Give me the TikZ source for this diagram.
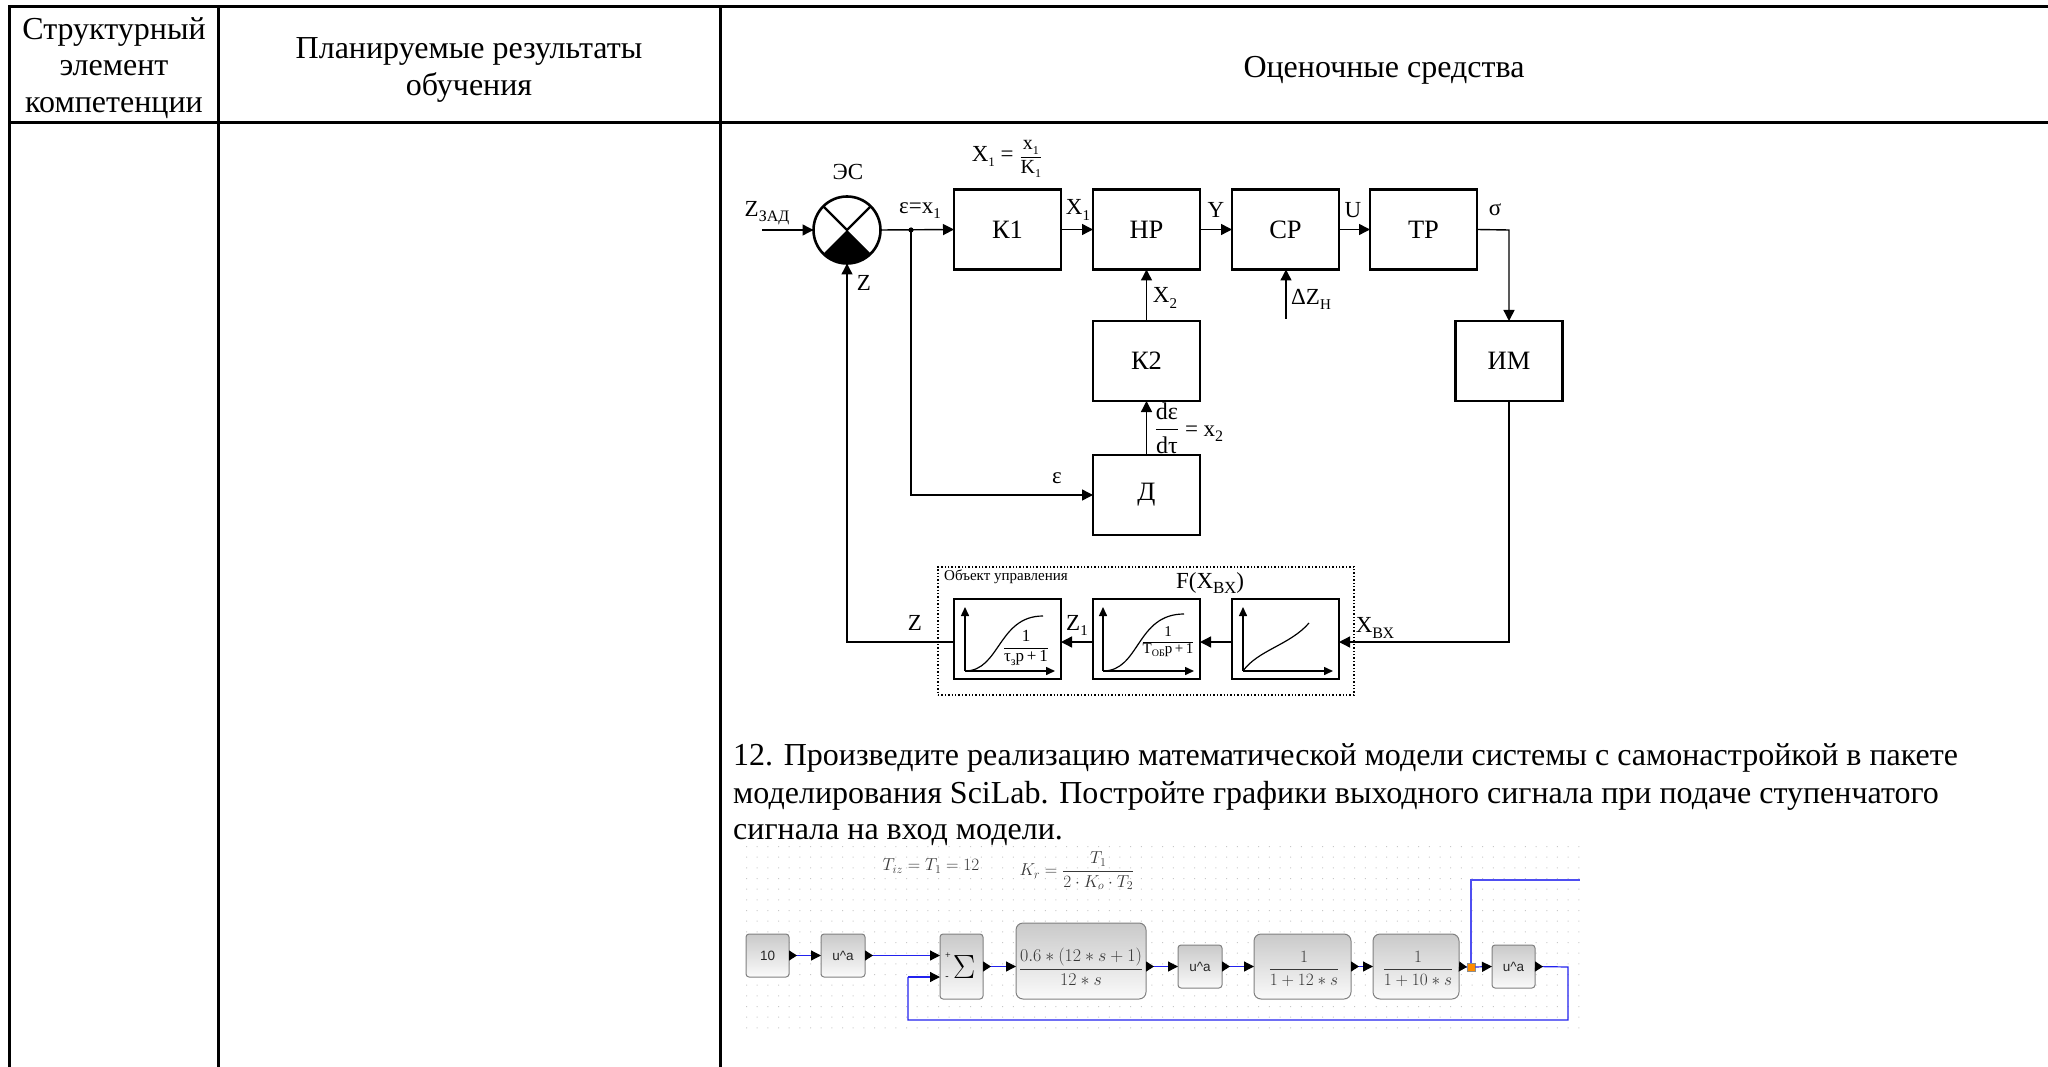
\documentclass[tikz,border=0pt]{standalone}
\usepackage{amsmath}
\usepackage{graphicx}
\usepackage{fontspec}
\setmainfont{Liberation Serif}
\setsansfont{Liberation Sans}
\usetikzlibrary{arrows.meta,calc}
\newcommand{\fz}[1]{\fontsize{#1}{#1}\selectfont}
\newcommand{\sbs}[2]{\raisebox{-.22em}{\fz{#1}#2}}
\newcommand{\mfrac}[3]{{\fz{#1}$\dfrac{#2}{#3}$}}
\definecolor{wire}{HTML}{2222EE}
\definecolor{formula}{HTML}{383838}
\tikzset{
  rule/.style={line width=3pt,line cap=butt},
  cell/.style={font=\fontsize{32}{36.5}\selectfont,align=center,inner sep=0pt,text=black},
  bx/.style={draw,line width=2.6pt,minimum width=107pt,minimum height=80pt,inner sep=0pt,outer sep=0pt,font=\fz{26.5}},
  conn/.style={line width=1.4pt,-{Triangle[length=11pt,width=11pt]}},
  lab/.style={inner sep=0pt,font=\fz{23}},
  axis/.style={line width=1.5pt,-{Triangle[length=9pt,width=8pt]}},
  curve/.style={line width=1.2pt},
  sci/.style={draw=black!50,line width=1pt,rounded corners=#1,top color=black!21,bottom color=black!2,inner sep=0pt,outer sep=0pt,text=formula},
  sci/.default=3pt,
  wr/.style={line width=1.2pt,draw=wire,{Triangle[reversed,length=8pt,width=10pt,color=black]}-{Triangle[length=10pt,width=10pt,color=black]}},
  wrin/.style={line width=1.2pt,draw=wire,-{Triangle[length=10pt,width=10pt,color=black]}},
  wrout/.style={line width=1.2pt,draw=wire,{Triangle[reversed,length=8pt,width=10pt,color=black]}-},
  wrtop/.style={line width=1.2pt,draw=wire!80!white},
  sm/.style={font=\sffamily\fz{13.5},text=black!85},
  scimath/.style={inner sep=0pt,text=formula,font=\fontsize{18}{22}\selectfont},
  blockmath/.style={inner sep=0pt,text=formula,font=\fontsize{18.6}{22}\selectfont},
}
\begin{document}
\begin{tikzpicture}[x=1pt,y=-1pt]
\useasboundingbox (0,0) rectangle (2048,1067);
% table
\draw[rule] (8,7) -- (2048,7);
\draw[rule] (8,123) -- (2048,123);
\draw[rule] (9,6) -- (9,1067);
\draw[rule] (218,6) -- (218,1067);
\draw[rule] (720,6) -- (720,1067);
\node[cell] (h1) at (114,68) {Структурный\\элемент\\компетенции};
\node[cell] (h2) at (469,70) {Планируемые результаты\\обучения};
\node[cell] (h3) at (1384,70) {Оценочные средства};
% block diagram
\node[draw,circle,line width=2.6pt,minimum size=67pt,inner sep=0pt,outer sep=0pt] (es) at (847,230) {};
\fill (es.center) -- (es.225) arc[start angle=225,end angle=315,radius=33.5pt] -- cycle;
\draw[line width=2.2pt] (es.135) -- (es.center) -- (es.45);
\node[bx] (k1) at (1007.5,229.5) {К1};
\node[bx] (np) at (1146.5,229.5) {НР};
\node[bx] (sr) at (1285.5,229.5) {СР};
\node[bx] (tr) at (1423.5,229.5) {ТР};
\node[bx] (k2) at (1146.5,361) {К2};
\node[bx] (im) at (1509,361) {ИМ};
\node[bx] (dd) at (1146.5,495) {Д};
\node[bx] (o1) at (1007.5,639) {};
\node[bx] (o2) at (1146.5,639) {};
\node[bx] (o3) at (1285.5,639) {};
\node[draw,dotted,line width=1.4pt,minimum width=416pt,minimum height=128pt,inner sep=0pt] (obj) at (1146,631) {};
\coordinate (zin) at (762,230);
\coordinate (branch) at (911,230);
\coordinate (dzn) at (1286,319);
\coordinate (tc) at (1509,230);
\coordinate (ic) at (1509,642);
\coordinate (zc) at (847,642);
\coordinate (bc) at (911,495);
\draw[conn] (zin) -- (es.west);
\draw[conn] (es.east) -- (k1.west);
\fill (branch) circle (2.6pt);
\draw[conn] (k1.east) -- (np.west);
\draw[conn] (np.east) -- (sr.west);
\draw[conn] (sr.east) -- (tr.west);
\draw[conn] (tr.east) -- (tc) -- (im.north);
\draw[conn] (k2.north) -- (np.south);
\draw[conn] (dd.north) -- (k2.south);
\draw[conn] (branch) -- (bc) -- (dd.west);
\draw[conn] (dzn) -- (dzn |- sr.south);
\draw[conn] (im.south) -- (ic) -- (o3.east |- ic);
\draw[conn] (o3.west |- ic) -- (o2.east |- ic);
\draw[conn] (o2.west |- ic) -- (o1.east |- ic);
\draw[conn] (o1.west |- ic) -- (zc) -- (es.south);
% axes and curves
\coordinate (a1) at (965,671);
\draw[axis] (a1) -- (965,607);
\draw[axis] (a1) -- (1055,671);
\draw[curve] (a1) .. controls (1000,671) and (998,616) .. (1043,616);
\coordinate (a2) at (1103,671);
\draw[axis] (a2) -- (1103,607);
\draw[axis] (a2) -- (1194,671);
\draw[curve] (a2) .. controls (1140,671) and (1136,614) .. (1184,614);
\coordinate (a3) at (1243,671);
\draw[axis] (a3) -- (1243,607);
\draw[axis] (a3) -- (1333,671);
\draw[curve] (a3) .. controls (1258,650) and (1290,645) .. (1309,623);
% labels
\node[lab] (l1) at (767,213) {Z\sbs{16}{ЗАД}};
\node[lab] (l2) at (848,172) {ЭС};
\node[lab] (l3) at (920,211) {ε=x\sbs{15}{1}};
\node[lab] (l4) at (1007,159) {X\sbs{13}{1} = \mfrac{17.28}{\mbox{\fz{20}x\sbs{12}{1}}}{\mbox{\fz{20}K\sbs{12}{1}}}};
\node[lab] (l5) at (1078,210) {X\sbs{15}{1}};
\node[lab] (l6) at (1216,210) {Y};
\node[lab] (l7) at (1353,210) {U};
\node[lab] (l8) at (1495,210) {σ};
\node[lab] (l9) at (864,283) {Z};
\node[lab] (l10) at (1165,298) {X\sbs{15}{2}};
\node[lab] (l11) at (1311,299) {ΔZ\sbs{15}{Н}};
\node[lab] (l12) at (1057,478) {ε};
\node[lab] (l13) at (1189,428) {$\dfrac{\mbox{\fz{24}dε}}{\mbox{\fz{24}dτ}}$ = x\sbs{16}{2}};
\node[lab,font=\fz{15},anchor=west] (l14) at (944,577) {Объект управления};
\node[lab,font=\fz{23}] (l15) at (1210,583) {F(X\sbs{17}{ВХ})};
\node[lab] (l16) at (1077,625) {Z\sbs{15}{1}};
\node[lab] (l17) at (1375,628) {X\sbs{16}{ВХ}};
\node[lab] (l18) at (915,623) {Z};
\node[lab] (f1) at (1026,648) {\mfrac{14.4}{\mbox{\fz{17}1}}{\mbox{\fz{17}τ\sbs{12}{з}p\,+\,1}}};
\node[lab] (f2) at (1168,642) {\mfrac{12}{\mbox{\fz{15}1}}{\mbox{\fz{15}T\sbs{10}{ОБ}p\,+\,1}}};
% task text
\node[cell,anchor=base west] (p1) at (733,765) {12. Произведите реализацию математической модели системы с самонастройкой в пакете};
\node[cell,anchor=base west] (p2) at (733,803) {моделирования SciLab. Постройте графики выходного сигнала при подаче ступенчатого};
\node[cell,anchor=base west] (p3) at (733,839) {сигнала на вход модели.};
% scilab grid
\fill[black!22] foreach \i in {0,...,78}{foreach \j in {0,...,17}{
  ({746+\i*10.67},{847+\j*10.67}) rectangle ++(1,-1)}};
\node[scimath] (t1) at (931,866) {$T_{iz}=T_1=12$};
\node[scimath] (t2) at (1077,871) {$K_r=\dfrac{T_1}{2\cdot K_o\cdot T_2}$};
\node[sci,minimum width=43pt,minimum height=43pt,sm] (b10) at (767.5,955.5) {10};
\node[sci,minimum width=44pt,minimum height=43pt,sm] (u1) at (843,955.5) {u\textasciicircum a};
\node[sci,minimum width=43pt,minimum height=65pt] (sum) at (961.5,966.5) {};
\node[inner sep=0pt,font=\fz{24.88},text=black] (sg) at (964,967) {\scalebox{1.35}{$\Sigma$}};
\node[inner sep=0pt,font=\fz{10}] (plus) at (948,956) {+};
\node[inner sep=0pt,font=\fz{10}] (minus) at (947,978) {-};
\node[sci=7pt,minimum width=130pt,minimum height=76pt] (c) at (1081,961) {};
\node[blockmath,scale=1.04] (ct) at (1081,967) {$\dfrac{0.6*(12*s+1)}{12*s}$};
\node[sci,minimum width=44pt,minimum height=43pt,sm] (u2) at (1200,966.5) {u\textasciicircum a};
\node[sci=7pt,minimum width=97pt,minimum height=65pt] (g1) at (1302.5,966.5) {};
\node[blockmath] (g1t) at (1304,969) {$\dfrac{1}{1+12*s}$};
\node[sci=7pt,minimum width=86pt,minimum height=65pt] (g2) at (1416,966.5) {};
\node[blockmath] (g2t) at (1418,969) {$\dfrac{1}{1+10*s}$};
\node[sci,minimum width=43pt,minimum height=43pt,sm] (u3) at (1513.5,966.5) {u\textasciicircum a};
\node[fill=orange!90!yellow,draw=black!45,line width=.5pt,minimum size=8pt,inner sep=0pt] (sp) at (1471,967) {};
\coordinate (sumin1) at (sum.west |- b10);
\coordinate (sumin2) at (940,977);
\coordinate (cin) at (c.west |- sum.east);
\coordinate (cout) at (c.east |- u2.west);
\coordinate (fbr) at (1568,967);
\coordinate (fbb) at (1568,1020);
\coordinate (fbl) at (908,1020);
\coordinate (fbt) at (908,977);
\coordinate (sctop) at (1471,880);
\coordinate (scend) at (1580,880);
\draw[wr] (b10.east) -- (u1.west);
\draw[wr] (u1.east) -- (sumin1);
\draw[wr] (sum.east) -- (cin);
\draw[wr] (cout) -- (u2.west);
\draw[wr] (u2.east) -- (g1.west);
\draw[wr] (g1.east) -- (g2.west);
\draw[wrout] (g2.east) -- (sp.west);
\draw[wrin] (sp.east) -- (u3.west);
\draw[wrout] (u3.east) -- (fbr) -- (fbb) -- (fbl) -- (fbt);
\draw[wrin] (fbt) -- (sumin2);
\draw[wrtop] (sp.north) -- (sctop) -- (scend);
\end{tikzpicture}
\end{document}
